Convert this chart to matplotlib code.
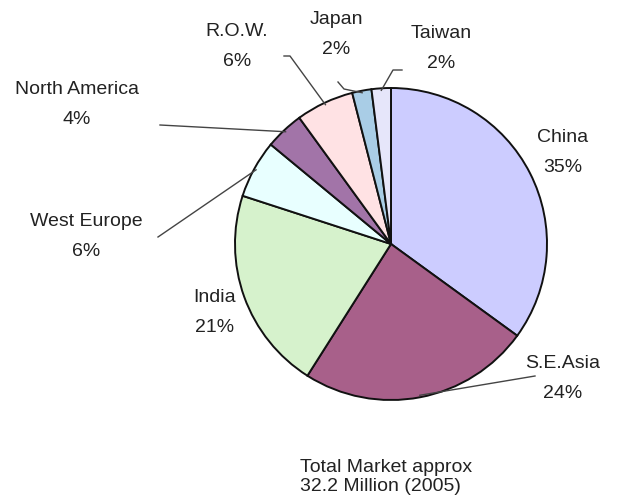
import numpy as np
import matplotlib.pyplot as plt

plt.rcParams['font.family'] = ['Liberation Sans', 'DejaVu Sans']

regions = ["China", "S.E.Asia", "India", "West Europe", "North America", "R.O.W.", "Japan", "Taiwan"]
shares = [35, 24, 21, 6, 4, 6, 2, 2]
colors = ["#ccccff", "#a8608a", "#d6f2cc", "#e8ffff", "#a274a8", "#ffe2e4", "#a9cde6", "#e6e6fa"]

# label text positions in pixels (x, y from top)
label_pos = {
    "China": (563, 153), "S.E.Asia": (563, 378), "India": (215, 313),
    "West Europe": (86, 237), "North America": (77, 104), "R.O.W.": (237, 47),
    "Japan": (336, 34), "Taiwan": (441, 48),
}
# leader lines: label-side points (pixels), wedge end taken from the wedge angle
leaders = {
    "S.E.Asia": [(535, 376)],
    "West Europe": [(158, 237)],
    "North America": [(160, 125)],
    "R.O.W.": [(284, 56), (290, 56)],
    "Japan": [(338, 82), (344, 89)],
    "Taiwan": [(402, 70), (393, 70)],
}

W, H = 621, 500
fig = plt.figure(figsize=(W / 100, H / 100), dpi=100)
ax = fig.add_axes([0, 0, 1, 1])

cx, cy, r = 391, H - 244, 156
wedges, _ = ax.pie(shares, colors=colors, startangle=90, counterclock=False,
                   center=(cx, cy), radius=r, frame=True,
                   wedgeprops=dict(edgecolor='#111111', linewidth=1.4))
ax.set_xlim(0, W)
ax.set_ylim(0, H)
ax.axis('off')

for name, val, w in zip(regions, shares, wedges):
    x, y = label_pos[name]
    ax.text(x, H - y, f"{name}\n{val}%", ha='center', va='center',
            fontsize=14, linespacing=2.0, color='#222222')
    if name in leaders:
        ang = np.deg2rad((w.theta1 + w.theta2) / 2)
        ex, ey = cx + (r - 2) * np.cos(ang), cy + (r - 2) * np.sin(ang)
        pts = leaders[name]
        xs = [p[0] for p in pts] + [ex]
        ys = [H - p[1] for p in pts] + [ey]
        ax.plot(xs, ys, color='#444444', linewidth=1.0)

ax.text(300, H - 477, "Total Market approx\n32.2 Million (2005)", ha='left', va='center',
        fontsize=14, linespacing=1.15, color='#222222')

fig.savefig("out.png", dpi=100)
